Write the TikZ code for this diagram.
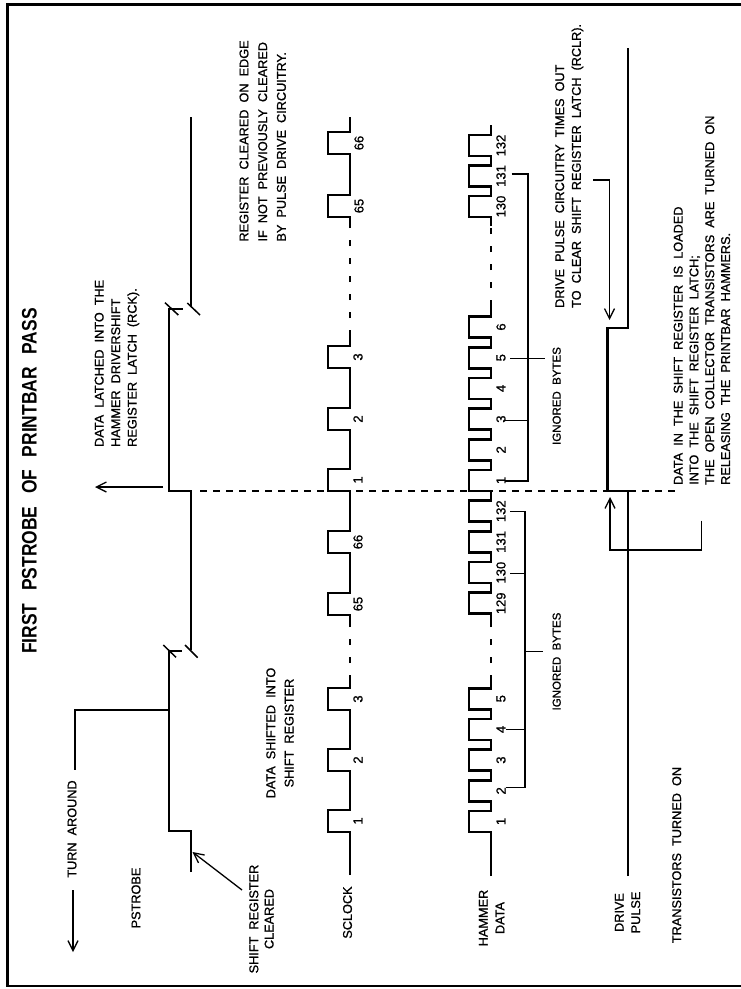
\documentclass[tikz,border=0pt]{standalone}
\usepackage{fontspec}
\setmainfont{Liberation Sans}[WordSpace=2.0,FakeBold=1.0]
\newfontfamily\titlefont{Liberation Sans}[FakeStretch=0.83,WordSpace=2.6]
\usetikzlibrary{arrows.meta}
\frenchspacing
\begin{document}
\begin{tikzpicture}[x=1pt,y=-1pt,
  wave/.style={line width=2.7pt, line join=miter, line cap=butt},
  thinl/.style={line width=1.3pt},
  gapdash/.style={line width=1.2pt, dash pattern=on 6pt off 12pt},
  sync/.style={line width=1.6pt, dash pattern=on 7pt off 6pt},
  barb/.style={-{Straight Barb[length=10pt,width=10pt]}},
  txt/.style={rotate=90, inner sep=0pt, font=\fontsize{12.7}{16.5}\selectfont},
  num/.style={rotate=90, inner sep=0pt, font=\fontsize{13}{15}\selectfont},
  ign/.style={rotate=90, inner sep=0pt, font=\fontsize{11.5}{14}\selectfont}]
\useasboundingbox (0,0) rectangle (741,989);
\draw[line width=2.2pt, line join=miter] (742,4.5) -- (7.5,4.5) -- (7.5,986) -- (742,986);

% title
\node[rotate=90, inner sep=0pt, font=\titlefont\bfseries\fontsize{21}{24}\selectfont] (title) at (29.5,481) {FIRST PSTROBE OF PRINTBAR PASS};

% sync dashed line
\draw[sync] (200,491) -- (676,491);

% PSTROBE
\draw[wave] (191,872) -- (191,831) -- (169,831) -- (169,651) -- (182,651);
\draw[wave] (191,650) -- (191,491) -- (169,491) -- (169,309) -- (183,309);
\draw[wave] (191,307) -- (191,117);
\draw[line width=1.5pt] (163.3,645)--(176,657.3) (185,645)--(197.7,657.7)
                        (165,302.7)--(178.3,315) (187.3,303)--(200,315);

% SCLOCK
\draw[wave] (350,875) \foreach \r in {832,771,710} { -- (350,\r) -- (328,\r) -- (328,\r-22) -- (350,\r-22) } -- (350,681);
\draw[wave] (350,622) \foreach \r in {615,553,491,430,368} { -- (350,\r) -- (328,\r) -- (328,\r-22) -- (350,\r-22) } -- (350,336);
\draw[wave] (350,226) \foreach \r in {217,154} { -- (350,\r) -- (328,\r) -- (328,\r-22) -- (350,\r-22) } -- (350,117);
\draw[gapdash] (350,681) -- (350,622);
\draw[gapdash] (350,336) -- (350,226);
\foreach \r/\t in {832/1,771/2,710/3} \node[num] (scA\t) at (358,\r-11) {\t};
\foreach \r/\t in {615/65,553/66,491/1,430/2,368/3} \node[num] (scB\t) at (358,\r-11) {\t};
\foreach \r/\t in {217/65,154/66} \node[num] (scC\t) at (359,\r-11) {\t};

% HAMMER DATA
\draw[wave] (491,876) \foreach \r in {832,801.3,770.6,739.9,709.2} { -- (491,\r) -- (469,\r) -- (469,\r-21) -- (491,\r-21) } -- (491,681);
\draw[wave] (491,624) \foreach \r in {613.8,583.1,552.4,521.7,491,460.3,429.6,398.9,368.2,337.5} { -- (491,\r) -- (469,\r) -- (469,\r-21) -- (491,\r-21) } -- (491,306);
\draw[wave] (491,226) \foreach \r in {217,186.5,156} { -- (491,\r) -- (469,\r) -- (469,\r-21) -- (491,\r-21) } -- (491,125);
\draw[gapdash] (491,681) -- (491,624);
\draw[gapdash] (491,306) -- (491,226);
\foreach \r/\t in {832/1,801.3/2,770.6/3,739.9/4,709.2/5} \node[num] (hdA\t) at (501,\r-10.5) {\t};
\foreach \r/\t in {613.8/129,583.1/130,552.4/131,521.7/132,491/1,460.3/2,429.6/3,398.9/4,368.2/5,337.5/6} \node[num] (hdB\t) at (501,\r-10.5) {\t};
\foreach \r/\t in {217/130,186.5/131,156/132} \node[num] (hdC\t) at (501,\r-10.5) {\t};

% ignored bytes brackets
\draw[thinl] (510,511.7) -- (525,511.7) -- (525,787.7) -- (506,787.7);
\draw[thinl] (510,573.3) -- (525,573.3);
\draw[thinl] (506,729.3) -- (525,729.3);
\draw[thinl] (525,651.7) -- (543,651.7);
\draw[thinl] (511.7,174) -- (528,174) -- (528,481) -- (505,481);
\draw[thinl] (505,420.7) -- (528,420.7);
\draw[thinl] (510,358.3) -- (545,358.3);
\node[ign] (ignA) at (556.7,396) {IGNORED BYTES};
\node[ign] (ignB) at (556.7,661.5) {IGNORED BYTES};

% DRIVE PULSE
\draw[wave] (628,876) -- (628,491) -- (607.5,491) -- (607.5,328) -- (628,328) -- (628,48);
\draw[thinl,barb] (701.7,520.7) -- (701.7,550) -- (610,550) -- (610,497);
\draw[thinl,barb] (593.3,180) -- (609.5,180) -- (609.5,320);

% other connectors
\draw[thinl] (169,710) -- (75,710) -- (75,770);
\draw[thinl,barb] (73,890) -- (73,952);
\draw[thinl,barb] (163,487) -- (95,487);
\draw[thinl,barb] (242,890) -- (192.5,852);

% texts
\node[txt] (turn) at (72,829) {TURN AROUND};
\node[txt] (pstrobe) at (136,898) {PSTROBE};
\node[txt, align=left, anchor=north west] (latched) at (94.5,447) {DATA LATCHED INTO THE\\HAMMER DRIVERSHIFT\\REGISTER LATCH (RCK).};
\node[txt, font=\fontsize{12.7}{15.3}\selectfont, align=center] (srclr) at (261.5,919) {SHIFT REGISTER\\CLEARED};
\node[txt, font=\fontsize{12.7}{18.3}\selectfont, align=center] (shifted) at (280,733) {DATA SHIFTED INTO\\SHIFT REGISTER};
\node[txt, font=\fontsize{12.7}{18.7}\selectfont, align=left, anchor=north west] (edge) at (239.3,241.7) {REGISTER CLEARED ON EDGE\\IF NOT PREVIOUSLY CLEARED\\BY PULSE DRIVE CIRCUITRY.};
\node[txt] (sclock) at (347.5,912.5) {SCLOCK};
\node[txt, font=\fontsize{12.7}{16.7}\selectfont, align=center] (hammer) at (491.7,918) {HAMMER\\DATA};
\node[txt, font=\fontsize{12.7}{16.5}\selectfont, align=center] (drive) at (627.5,912.5) {DRIVE\\PULSE};
\node[txt, font=\fontsize{12.7}{16.7}\selectfont, align=left, anchor=north west] (timeout) at (555,308) {DRIVE PULSE CIRCUITRY TIMES OUT\\TO CLEAR SHIFT REGISTER LATCH (RCLR).};
\node[txt, font=\fontsize{12.7}{15.8}\selectfont, align=left, anchor=north west] (loaded) at (673.5,485) {DATA IN THE SHIFT REGISTER IS LOADED\\INTO THE SHIFT REGISTER LATCH;\\THE OPEN COLLECTOR TRANSISTORS ARE TURNED ON\\RELEASING THE PRINTBAR HAMMERS.};
\node[txt] (trans) at (676.7,855) {TRANSISTORS TURNED ON};
\end{tikzpicture}
\end{document}
